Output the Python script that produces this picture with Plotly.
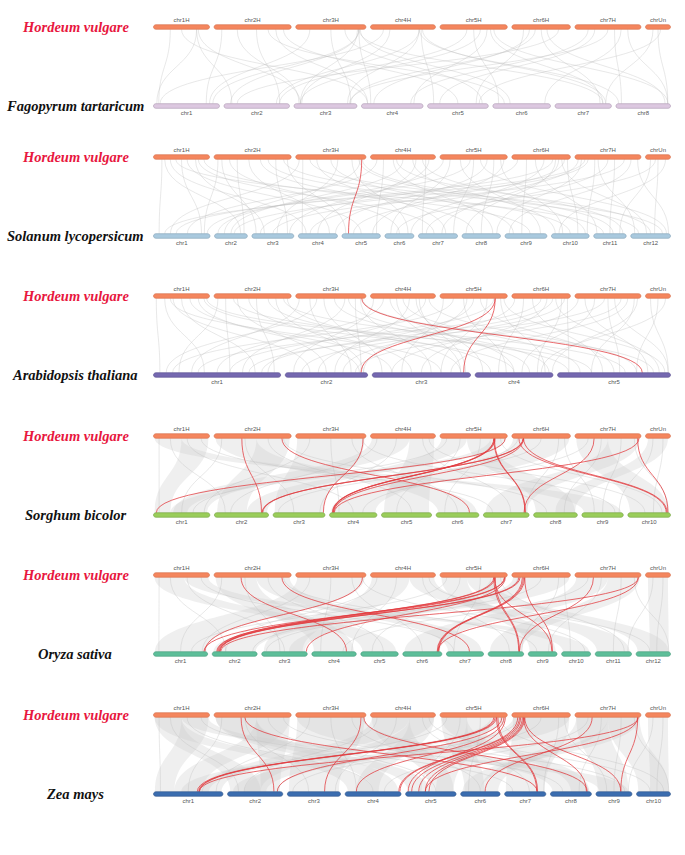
import plotly.graph_objects as go

# ---------------- data ----------------
HV_NAMES = ['chr1H', 'chr2H', 'chr3H', 'chr4H', 'chr5H', 'chr6H', 'chr7H', 'chrUn']
HV_LEN = [558, 768, 699, 647, 670, 583, 657, 249]

FT_LEN = [62.4, 61.9, 59.5, 58.2, 57.4, 54.5, 53.3, 51.6]
SL_LEN = [90.0, 52.2, 66.7, 62.2, 61.1, 46.1, 62.2, 61.1, 66.7, 60.0, 51.7, 63.3]
AT_LEN = [30.4, 19.7, 23.5, 18.6, 27.0]
SB_LEN = [80.9, 77.7, 74.4, 68.0, 71.9, 61.3, 65.5, 62.7, 59.4, 61.2]
OS_LEN = [43.3, 35.9, 36.4, 35.5, 29.9, 31.2, 29.7, 28.4, 23.0, 23.2, 29.0, 27.5]
ZM_LEN = [307, 244, 235, 247, 223, 174, 182, 181, 159, 150]

SPECIES_TOP = 'Hordeum vulgare'
SPECIES_BOT = ['Fagopyrum tartaricum', 'Solanum lycopersicum', 'Arabidopsis thaliana',
               'Sorghum bicolor', 'Oryza sativa', 'Zea mays']

# links: (barley chr index, position fraction, other chr index, position fraction)
FT_GRAY = [(0,0.77,0,0.05),(0,0.77,1,0.12),(0,0.8,2,0.1),(0,0.3,0,0.08),(1,0.1,0,0.8),(1,0.3,2,0.08),
           (1,0.55,1,0.85),(1,0.8,3,0.1),(1,0.9,4,0.5),(2,0.9,0,0.9),(2,0.9,1,0.1),(2,0.88,2,0.1),
           (2,0.9,3,0.15),(2,0.92,5,0.3),(2,0.9,6,0.85),(2,0.2,0,0.85),(2,0.5,2,0.9),(3,0.75,1,0.8),
           (3,0.75,2,0.85),(3,0.78,4,0.1),(3,0.75,7,0.05),(3,0.3,2,0.12),(3,0.8,6,0.9),(4,0.6,2,0.1),
           (4,0.7,3,0.85),(4,0.75,6,0.85),(4,0.8,7,0.95),(4,0.4,1,0.85),(4,0.5,5,0.1),(5,0.4,2,0.9),
           (5,0.5,6,0.8),(5,0.6,7,0.9),(5,0.3,3,0.2),(5,0.2,4,0.8),(6,0.3,4,0.2),(6,0.6,7,0.1),
           (6,0.8,7,0.95),(6,0.5,2,0.88),(6,0.7,5,0.9),(7,0.5,7,0.95),(7,0.3,6,0.9),(7,0.6,4,0.85),
           (0,0.5,3,0.1),(1,0.7,5,0.2),(3,0.2,0,0.1),(2,0.7,4,0.9),(5,0.8,1,0.2),(6,0.2,3,0.8)]

SL_GRAY = [(0,0.15,0,0.1),(0,0.2,1,0.8),(0,0.3,3,0.2),(0,0.5,0,0.85),(0,0.6,4,0.5),(0,0.75,2,0.3),
           (0,0.8,6,0.4),(0,0.9,8,0.6),(0,0.4,10,0.3),(1,0.05,0,0.9),(1,0.1,2,0.1),(1,0.2,5,0.5),
           (1,0.3,1,0.9),(1,0.45,3,0.8),(1,0.6,7,0.3),(1,0.7,9,0.5),(1,0.8,2,0.85),(1,0.9,11,0.2),
           (1,0.95,4,0.1),(2,0.05,0,0.3),(2,0.1,3,0.1),(2,0.3,6,0.7),(2,0.5,8,0.2),(2,0.6,2,0.6),
           (2,0.8,5,0.8),(2,0.9,9,0.9),(2,0.92,1,0.3),(2,0.95,10,0.6),(2,0.2,11,0.8),(3,0.1,0,0.6),
           (3,0.2,4,0.9),(3,0.35,7,0.8),(3,0.5,1,0.5),(3,0.65,9,0.1),(3,0.7,3,0.5),(3,0.8,10,0.9),
           (3,0.85,6,0.1),(3,0.9,2,0.9),(3,0.4,11,0.5),(4,0.05,1,0.1),(4,0.15,5,0.2),(4,0.3,8,0.85),
           (4,0.45,0,0.95),(4,0.6,11,0.9),(4,0.7,3,0.95),(4,0.8,7,0.5),(4,0.9,9,0.3),(4,0.95,4,0.8),
           (4,0.5,6,0.9),(5,0.1,2,0.2),(5,0.25,8,0.4),(5,0.4,10,0.1),(5,0.55,5,0.9),(5,0.7,0,0.4),
           (5,0.75,7,0.1),(5,0.85,11,0.4),(5,0.9,3,0.3),(5,0.95,9,0.7),(5,0.8,6,0.6),(6,0.05,4,0.3),
           (6,0.1,7,0.9),(6,0.2,1,0.6),(6,0.3,9,0.95),(6,0.35,11,0.1),(6,0.5,6,0.2),(6,0.6,10,0.5),
           (6,0.75,2,0.5),(6,0.85,8,0.1),(6,0.95,11,0.95),(6,0.15,0,0.2),(7,0.2,10,0.8),(7,0.5,11,0.6),
           (7,0.8,9,0.2),(7,0.4,5,0.4)]

AT_GRAY = [(0,0.05,0,0.05),(0,0.2,0,0.4),(0,0.35,1,0.3),(0,0.5,0,0.8),(0,0.65,2,0.2),(0,0.8,1,0.9),
           (0,0.9,3,0.5),(0,0.95,4,0.3),(0,0.3,2,0.7),(1,0.05,0,0.2),(1,0.15,0,0.6),(1,0.3,1,0.5),
           (1,0.45,2,0.4),(1,0.55,0,0.95),(1,0.7,3,0.2),(1,0.8,1,0.95),(1,0.9,4,0.6),(1,0.95,2,0.9),
           (1,0.25,4,0.1),(2,0.05,0,0.3),(2,0.2,1,0.8),(2,0.4,2,0.1),(2,0.55,3,0.7),(2,0.7,0,0.7),
           (2,0.85,1,0.92),(2,0.92,2,0.6),(2,0.95,4,0.85),(2,0.3,0,0.1),(2,0.75,3,0.95),(3,0.05,1,0.1),
           (3,0.2,0,0.5),(3,0.4,2,0.9),(3,0.5,4,0.2),(3,0.6,1,0.6),(3,0.7,3,0.1),(3,0.75,2,0.95),
           (3,0.85,0,0.9),(3,0.9,4,0.7),(3,0.3,3,0.5),(4,0.05,2,0.3),(4,0.2,0,0.15),(4,0.35,3,0.4),
           (4,0.5,1,0.4),(4,0.6,4,0.5),(4,0.7,2,0.7),(4,0.8,0,0.6),(4,0.9,3,0.9),(4,0.95,4,0.95),
           (4,0.4,1,0.95),(5,0.05,1,0.7),(5,0.2,3,0.3),(5,0.35,4,0.4),(5,0.5,0,0.35),(5,0.6,2,0.5),
           (5,0.75,4,0.9),(5,0.85,3,0.8),(5,0.9,1,0.2),(5,0.95,4,0.1),(5,0.7,0,0.85),(6,0.05,2,0.2),
           (6,0.15,4,0.8),(6,0.3,3,0.6),(6,0.45,0,0.75),(6,0.6,4,0.98),(6,0.7,1,0.85),(6,0.8,2,0.8),
           (6,0.9,4,0.3),(6,0.95,3,0.99),(6,0.5,4,0.55),(7,0.2,4,0.98),(7,0.5,4,0.7),(7,0.8,3,0.85)]

SB_GRAY = [(0,0.1,0,0.1),(0,0.3,1,0.2),(0,0.6,3,0.5),(0,0.85,6,0.2),(1,0.1,0,0.5),(1,0.4,2,0.4),
           (1,0.7,4,0.6),(1,0.9,7,0.3),(2,0.2,0,0.9),(2,0.5,3,0.2),(2,0.8,5,0.5),(2,0.95,8,0.8),
           (3,0.1,1,0.3),(3,0.4,2,0.9),(3,0.8,6,0.6),(3,0.9,9,0.4),(4,0.1,0,0.7),(4,0.3,4,0.3),
           (4,0.6,5,0.2),(4,0.9,9,0.8),(5,0.1,1,0.9),(5,0.5,2,0.1),(5,0.8,6,0.95),(5,0.9,8,0.3),
           (6,0.2,3,0.7),(6,0.4,7,0.7),(6,0.7,8,0.5),(6,0.9,9,0.95),(7,0.3,8,0.9),(7,0.7,9,0.6)]
OS_GRAY = [(0,0.1,0,0.1),(0,0.3,1,0.3),(0,0.6,2,0.5),(0,0.85,6,0.2),(1,0.1,0,0.5),(1,0.4,2,0.4),
           (1,0.7,4,0.6),(1,0.9,8,0.3),(2,0.2,0,0.9),(2,0.5,3,0.2),(2,0.8,5,0.5),(2,0.95,9,0.8),
           (3,0.1,1,0.3),(3,0.4,3,0.9),(3,0.8,7,0.6),(3,0.9,11,0.4),(4,0.1,0,0.7),(4,0.3,4,0.3),
           (4,0.6,6,0.2),(4,0.9,10,0.8),(5,0.1,1,0.9),(5,0.5,2,0.1),(5,0.8,7,0.95),(5,0.9,9,0.3),
           (6,0.2,3,0.7),(6,0.4,8,0.7),(6,0.7,10,0.5),(6,0.9,11,0.95),(7,0.3,10,0.9),(7,0.7,11,0.6)]
ZM_GRAY = [(0,0.1,0,0.1),(0,0.3,1,0.2),(0,0.6,3,0.5),(0,0.85,6,0.2),(1,0.1,0,0.5),(1,0.4,2,0.4),
           (1,0.7,4,0.6),(1,0.9,7,0.3),(2,0.2,0,0.9),(2,0.5,3,0.2),(2,0.8,5,0.5),(2,0.95,8,0.8),
           (3,0.1,1,0.3),(3,0.4,2,0.9),(3,0.8,6,0.6),(3,0.9,9,0.4),(4,0.1,0,0.7),(4,0.3,4,0.3),
           (4,0.6,5,0.2),(4,0.9,9,0.8),(5,0.1,1,0.9),(5,0.5,2,0.1),(5,0.8,6,0.95),(5,0.9,8,0.3),
           (6,0.2,3,0.7),(6,0.4,7,0.7),(6,0.7,8,0.5),(6,0.9,9,0.95),(7,0.3,8,0.9),(7,0.7,9,0.6)]

# syntenic blocks: (barley chr, start frac, end frac, other chr, start frac, end frac)
SB_RIB = [(0,0.02,0.5,8,0.05,0.95),(0,0.5,0.98,0,0.02,0.3),(1,0.02,0.55,5,0.05,0.95),
          (1,0.55,0.98,1,0.05,0.6),(2,0.02,0.98,2,0.03,0.97),(3,0.02,0.6,0,0.35,0.95),
          (3,0.6,0.98,4,0.05,0.95),(4,0.02,0.4,1,0.6,0.97),(4,0.4,0.75,7,0.05,0.95),
          (4,0.75,0.98,0,0.3,0.6),(5,0.02,0.98,3,0.03,0.97),(6,0.02,0.5,9,0.05,0.95),
          (6,0.5,0.98,6,0.05,0.95),(7,0.1,0.9,7,0.5,0.95)]
OS_RIB = [(0,0.02,0.55,4,0.05,0.95),(0,0.55,0.98,9,0.05,0.95),(1,0.02,0.55,3,0.05,0.95),
          (1,0.55,0.98,6,0.05,0.95),(2,0.02,0.98,0,0.03,0.97),(3,0.02,0.6,2,0.05,0.9),
          (3,0.6,0.98,10,0.05,0.95),(4,0.02,0.4,8,0.05,0.95),(4,0.4,0.75,11,0.05,0.95),
          (4,0.75,0.98,2,0.6,0.95),(5,0.02,0.98,1,0.03,0.97),(6,0.02,0.5,5,0.05,0.95),
          (6,0.5,0.98,7,0.05,0.95),(7,0.1,0.9,11,0.4,0.95)]
ZM_RIB = [(0,0.02,0.5,1,0.05,0.6),(0,0.02,0.5,3,0.05,0.5),(0,0.5,0.98,8,0.1,0.9),(0,0.5,0.98,0,0.02,0.3),
          (1,0.02,0.55,4,0.05,0.5),(1,0.02,0.55,3,0.5,0.95),(1,0.55,0.98,0,0.3,0.7),(1,0.55,0.98,1,0.6,0.95),
          (2,0.02,0.98,2,0.03,0.97),(2,0.02,0.98,7,0.05,0.95),(3,0.02,0.6,0,0.7,0.98),(3,0.02,0.6,4,0.5,0.95),
          (3,0.6,0.98,1,0.3,0.6),(3,0.6,0.98,3,0.2,0.6),(4,0.02,0.4,7,0.5,0.95),(4,0.02,0.4,5,0.1,0.6),
          (4,0.4,0.75,4,0.6,0.95),(4,0.75,0.98,0,0.4,0.8),(5,0.02,0.98,6,0.03,0.97),(5,0.02,0.98,1,0.1,0.7),
          (6,0.02,0.5,8,0.05,0.9),(6,0.02,0.5,5,0.5,0.95),(6,0.5,0.98,9,0.05,0.95),(6,0.5,0.98,5,0.05,0.5),
          (7,0.1,0.9,9,0.4,0.95)]

SL_RED = [(2,0.94,4,0.17)]
AT_RED = [(2,0.94,4,0.75),(4,0.82,1,0.92),(4,0.82,2,0.93)]
SB_RED = [(1,0.36,1,0.87),(1,0.88,5,0.78),(2,0.96,2,0.97),(4,0.80,6,0.91),(4,0.81,6,0.92),
          (4,0.80,3,0.06),(4,0.81,3,0.07),(4,0.82,3,0.08),(4,0.97,0,0.05),(5,0.19,1,0.88),
          (5,0.20,1,0.89),(5,0.20,3,0.09),(5,0.12,9,0.90),(5,0.20,9,0.92),(6,0.29,6,0.89),
          (6,0.95,9,0.94),(6,0.97,3,0.10)]
OS_RED = [(1,0.35,3,0.78),(1,0.88,6,0.62),(2,0.95,0,0.95),(4,0.80,7,0.86),(4,0.82,7,0.88),
          (4,0.80,1,0.10),(4,0.82,1,0.12),(4,0.96,1,0.16),(4,0.96,0,0.93),(4,0.81,8,0.82),
          (4,0.97,2,0.98),(5,0.12,1,0.14),(5,0.14,1,0.17),(5,0.18,5,0.88),(5,0.20,5,0.90),
          (5,0.22,5,0.92),(5,0.22,8,0.84),(6,0.28,7,0.88),(6,0.96,1,0.19),(6,0.96,5,0.90)]
ZM_RED = [(1,0.35,1,0.84),(1,0.40,6,0.79),(2,0.93,2,0.70),(2,0.97,7,0.90),(4,0.80,0,0.63),
          (4,0.82,0,0.65),(4,0.84,0,0.66),(4,0.84,6,0.78),(4,0.86,6,0.80),(4,0.92,1,0.90),
          (4,0.95,3,0.20),(4,0.97,4,0.05),(5,0.10,3,0.96),(5,0.13,3,0.98),(5,0.15,4,0.12),
          (5,0.18,4,0.26),(5,0.20,4,0.39),(5,0.22,4,0.46),(5,0.22,8,0.69),(5,0.20,7,0.88),
          (6,0.26,5,0.62),(6,0.95,8,0.69),(6,0.95,4,0.39),(6,0.96,0,0.66)]

# ---------------- style ----------------
W, H = 685, 855
X_LEFT, X_RIGHT, GAP = 153.5, 670.5, 4.6
BAR_H = 4.6
TOP_Y = [27, 157, 296, 436, 575, 715]
BOT_DY = 79
HV_COLOR = ('#F4865E', '#D36A45')
BOT_COLORS = [('#DCC8E0', '#A994AF'), ('#A9C9DE', '#7D9EB4'), ('#7568B0', '#53488C'),
              ('#9ACD5A', '#6E9D3A'), ('#5DBE99', '#3E9777'), ('#3B6DAF', '#2A5088')]
RED = 'rgba(226,58,62,0.85)'
GRAY_LINE = 'rgba(190,190,190,0.35)'
GRAY_FILL = 'rgba(205,205,205,0.32)'
SERIF = 'Liberation Serif, Times New Roman, serif'

panels = [
    (FT_LEN, FT_GRAY, [], []),
    (SL_LEN, SL_GRAY, [], SL_RED),
    (AT_LEN, AT_GRAY, [], AT_RED),
    (SB_LEN, SB_GRAY, SB_RIB, SB_RED),
    (OS_LEN, OS_GRAY, OS_RIB, OS_RED),
    (ZM_LEN, ZM_GRAY, ZM_RIB, ZM_RED),
]


def chrom_layout(lengths):
    n = len(lengths)
    scale = (X_RIGHT - X_LEFT - GAP * (n - 1)) / sum(lengths)
    out, x = [], X_LEFT
    for L in lengths:
        out.append((x, x + L * scale))
        x += L * scale + GAP
    return out


def pos(lay, idx, frac):
    a, b = lay[idx]
    return a + (b - a) * frac


def bar_path(x0, x1, yc):
    r = BAR_H / 2
    k = 0.5523 * r
    return (f"M{x0+r},{yc-r} L{x1-r},{yc-r} "
            f"C{x1-r+k},{yc-r} {x1},{yc-k} {x1},{yc} "
            f"C{x1},{yc+k} {x1-r+k},{yc+r} {x1-r},{yc+r} "
            f"L{x0+r},{yc+r} "
            f"C{x0+r-k},{yc+r} {x0},{yc+k} {x0},{yc} "
            f"C{x0},{yc-k} {x0+r-k},{yc-r} {x0+r},{yc-r} Z")


def link_path(xa, ya, xb, yb):
    ym = (ya + yb) / 2
    return f"M{xa},{ya} C{xa},{ym} {xb},{ym} {xb},{yb}"


def ribbon_path(a1, a2, b1, b2, ya, yb):
    ym = (ya + yb) / 2
    return (f"M{a1},{ya} C{a1},{ym} {b1},{ym} {b1},{yb} L{b2},{yb} "
            f"C{b2},{ym} {a2},{ym} {a2},{ya} Z")


shapes, annotations = [], []
fig = go.Figure()
hv_lay = chrom_layout(HV_LEN)

for p, (blen, gray, ribs, reds) in enumerate(panels):
    yt = TOP_Y[p]
    yb = yt + BOT_DY
    bl = chrom_layout(blen)
    ya, yz = yt + BAR_H / 2, yb - BAR_H / 2
    for (ti, t0, t1, bi, b0, b1) in ribs:
        shapes.append(dict(type='path', path=ribbon_path(pos(hv_lay, ti, t0), pos(hv_lay, ti, t1),
                                                         pos(bl, bi, b0), pos(bl, bi, b1), ya, yz),
                           fillcolor=GRAY_FILL, line=dict(width=0), layer='below'))
    for (ti, tf, bi, bf) in gray:
        shapes.append(dict(type='path', path=link_path(pos(hv_lay, ti, tf), ya, pos(bl, bi, bf), yz),
                           line=dict(color=GRAY_LINE, width=1.0), layer='below'))
    for (ti, tf, bi, bf) in reds:
        shapes.append(dict(type='path', path=link_path(pos(hv_lay, ti, tf), ya, pos(bl, bi, bf), yz),
                           line=dict(color=RED, width=0.9), layer='below'))
    for (a, b) in hv_lay:
        shapes.append(dict(type='path', path=bar_path(a, b, yt), fillcolor=HV_COLOR[0],
                           line=dict(color=HV_COLOR[1], width=0.6), layer='below'))
    for (a, b) in bl:
        shapes.append(dict(type='path', path=bar_path(a, b, yb), fillcolor=BOT_COLORS[p][0],
                           line=dict(color=BOT_COLORS[p][1], width=0.6), layer='below'))
    fig.add_trace(go.Scatter(x=[(a + b) / 2 for a, b in hv_lay], y=[yt - 6.5] * len(hv_lay),
                             mode='text', text=HV_NAMES, hoverinfo='skip', showlegend=False,
                             textfont=dict(family='Liberation Sans', size=6, color='#555555')))
    bnames = [f'chr{i+1}' for i in range(len(bl))]
    fig.add_trace(go.Scatter(x=[(a + b) / 2 for a, b in bl], y=[yb + 7.5] * len(bl),
                             mode='text', text=bnames, hoverinfo='skip', showlegend=False,
                             textfont=dict(family='Liberation Sans', size=6, color='#555555')))
    annotations.append(dict(x=75, y=yt, text=f'<b><i>{SPECIES_TOP}</i></b>', showarrow=False,
                            xanchor='center', yanchor='middle',
                            font=dict(family=SERIF, size=14.5, color='#E8173E')))
    annotations.append(dict(x=75, y=yb, text=f'<b><i>{SPECIES_BOT[p]}</i></b>', showarrow=False,
                            xanchor='center', yanchor='middle',
                            font=dict(family=SERIF, size=14.5, color='#111111')))

fig.update_layout(
    width=W, height=H, margin=dict(l=0, r=0, t=0, b=0),
    paper_bgcolor='white', plot_bgcolor='white',
    xaxis=dict(range=[0, W], visible=False, fixedrange=True),
    yaxis=dict(range=[H, 0], visible=False, fixedrange=True),
    shapes=shapes, annotations=annotations, showlegend=False,
)
fig.write_html('out.html', config={'displayModeBar': False},
               post_script="document.body.style.margin='0';document.body.style.overflow='hidden';")
